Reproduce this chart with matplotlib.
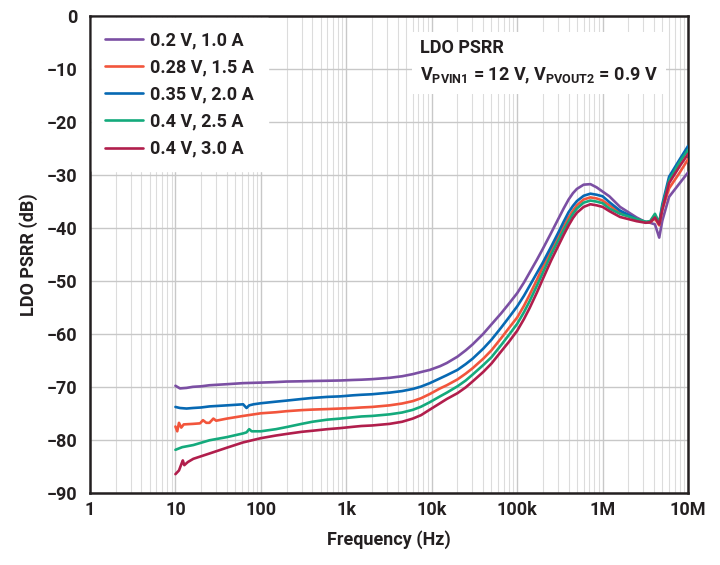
import matplotlib
matplotlib.use("Agg")
import matplotlib.pyplot as plt
from matplotlib.ticker import FixedLocator, LogLocator, NullFormatter

plt.rcParams['font.family'] = ['Roboto', 'DejaVu Sans']
plt.rcParams['font.weight'] = 'bold'
plt.rcParams['mathtext.fontset'] = 'custom'
plt.rcParams['mathtext.rm'] = 'Roboto:bold'
plt.rcParams['mathtext.it'] = 'Roboto:bold'
plt.rcParams['mathtext.bf'] = 'Roboto:bold'

FW = 'bold'
FS = 13

labels = ["0.2 V, 1.0 A", "0.28 V, 1.5 A", "0.35 V, 2.0 A", "0.4 V, 2.5 A", "0.4 V, 3.0 A"]
colors = ["#7B4FA3", "#F2553C", "#0769B3", "#14AA7C", "#B11E4C"]

f_mid = [100, 150, 200, 300, 400, 600, 850, 1.2e3, 1.5e3, 2e3, 3.2e3, 4.5e3, 6e3, 7.5e3,
         9.5e3, 12.5e3, 15e3, 20e3, 25e3, 30e3, 40e3, 50e3, 65e3, 80e3, 100e3, 120e3,
         140e3, 170e3, 200e3, 250e3, 300e3, 350e3, 400e3, 450e3, 500e3, 600e3, 720e3,
         850e3, 1e6, 1.2e6]
f_high = [1.6e6, 2.5e6, 3.2e6, 3.6e6, 4.1e6, 4.6e6, 5.0e6, 6e6, 8e6, 10e6]

# series 1: 0.2 V, 1.0 A
f1_low = [10, 11.3, 13.5, 16, 20, 25, 40, 62]
v1_low = [-69.8, -70.3, -70.2, -70.0, -69.9, -69.7, -69.5, -69.3]
v1_mid = [-69.2, -69.1, -69.0, -68.95, -68.9, -68.85, -68.8, -68.7, -68.65, -68.55, -68.3,
          -68.0, -67.6, -67.2, -66.8, -66.1, -65.5, -64.3, -63.1, -62.0, -60.0, -58.2,
          -56.1, -54.3, -52.3, -50.3, -48.4, -46.0, -43.9, -40.9, -38.4, -36.3, -34.6,
          -33.4, -32.6, -31.8, -31.7, -32.3, -33.1, -34.0]
v1_high = [-36.0, -38.0, -38.9, -39.0, -39.3, -41.8, -38.6, -34.1, -31.5, -29.5]

# series 2: 0.28 V, 1.5 A
f2_low = [10, 10.5, 11, 11.7, 12.5, 16, 19.4, 21, 23, 25, 27.8, 30, 40, 62]
v2_low = [-77.5, -78.4, -76.8, -77.7, -77.1, -77.0, -76.9, -76.3, -76.8, -76.8, -76.0, -76.4,
          -76.0, -75.5]
v2_mid = [-75.0, -74.8, -74.6, -74.4, -74.3, -74.2, -74.1, -74.0, -73.9, -73.8, -73.5,
          -73.15, -72.7, -72.15, -71.35, -70.3, -69.7, -68.6, -67.5, -66.5, -64.7, -63.1,
          -60.8, -58.9, -56.9, -54.7, -52.6, -49.8, -47.3, -44.2, -41.8, -39.7, -38.0,
          -36.7, -35.7, -34.6, -34.2, -34.4, -34.8, -35.7]
v2_high = [-37.0, -38.3, -38.9, -38.9, -38.2, -39.5, -36.5, -32.5, -29.5, -27.0]

# series 3: 0.35 V, 2.0 A
f3_low = [10, 11.3, 13.5, 16, 20, 25, 40, 62, 68, 73, 82]
v3_low = [-73.8, -74.0, -74.1, -74.0, -73.9, -73.7, -73.5, -73.3, -74.0, -73.5, -73.3]
v3_mid = [-73.1, -72.8, -72.6, -72.3, -72.1, -71.9, -71.8, -71.6, -71.5, -71.4, -71.1,
          -70.8, -70.4, -69.95, -69.3, -68.4, -67.8, -66.8, -65.7, -64.7, -62.8, -61.1,
          -58.8, -56.9, -54.8, -52.8, -50.9, -48.5, -46.5, -43.5, -41.0, -38.8, -37.0,
          -35.8, -34.9, -33.9, -33.5, -33.7, -34.0, -35.1]
v3_high = [-36.7, -38.3, -38.9, -38.8, -37.6, -39.0, -35.5, -30.3, -27.0, -24.5]

# series 4: 0.4 V, 2.5 A
f4_low = [10, 12, 16.2, 25, 40, 62, 68, 73, 78]
v4_low = [-81.9, -81.4, -81.0, -80.1, -79.5, -78.8, -78.6, -78.0, -78.4]
v4_mid = [-78.4, -78.0, -77.6, -77.0, -76.6, -76.2, -76.0, -75.75, -75.6, -75.5, -75.2,
          -74.85, -74.35, -73.75, -72.9, -71.8, -71.1, -69.9, -68.8, -67.7, -65.9, -64.4,
          -62.1, -60.2, -58.1, -55.9, -53.8, -50.9, -48.4, -45.0, -42.5, -40.4, -38.7,
          -37.3, -36.3, -35.2, -34.8, -35.0, -35.3, -36.3]
v4_high = [-37.3, -38.3, -38.8, -38.7, -37.3, -39.0, -36.0, -31.0, -27.5, -25.2]

# series 5: 0.4 V, 3.0 A
f5_low = [10, 11, 11.8, 12.2, 12.7, 14, 16.2, 25, 40, 62]
v5_low = [-86.5, -85.8, -84.5, -83.9, -84.8, -84.2, -83.6, -82.6, -81.5, -80.5]
v5_mid = [-79.7, -79.2, -78.9, -78.5, -78.3, -78.0, -77.8, -77.55, -77.4, -77.3, -77.0,
          -76.6, -76.0, -75.35, -74.3, -73.1, -72.3, -71.2, -70.1, -69.0, -67.2, -65.6,
          -63.3, -61.5, -59.4, -57.2, -55.1, -52.2, -49.6, -46.1, -43.5, -41.3, -39.5,
          -38.1, -37.1, -36.0, -35.5, -35.7, -36.0, -36.8]
v5_high = [-37.9, -38.7, -39.0, -38.9, -38.0, -39.3, -36.5, -31.5, -28.3, -26.0]

series = [
    (f1_low, v1_low, v1_mid, v1_high),
    (f2_low, v2_low, v2_mid, v2_high),
    (f3_low, v3_low, v3_mid, v3_high),
    (f4_low, v4_low, v4_mid, v4_high),
    (f5_low, v5_low, v5_mid, v5_high),
]

xticks = [1, 10, 100, 1e3, 1e4, 1e5, 1e6, 1e7]
xticklabels = ["1", "10", "100", "1k", "10k", "100k", "1M", "10M"]
yticks = [0, -10, -20, -30, -40, -50, -60, -70, -80, -90]

fig = plt.figure(figsize=(7.2, 5.65), dpi=100)
ax = fig.add_axes([0.125, 0.128, 0.8306, 0.843])

for (fl, vl, vm, vh), lab, c in zip(series, labels, colors):
    ax.plot(fl + f_mid + f_high, vl + vm + vh, color=c, lw=1.9, label=lab,
            solid_joinstyle='round', solid_capstyle='round', zorder=3)

ax.set_xscale('log')
ax.set_xlim(1, 1e7)
ax.set_ylim(-90, 0)
ax.xaxis.set_major_locator(FixedLocator(xticks))
ax.set_xticklabels(xticklabels)
ax.xaxis.set_minor_locator(LogLocator(base=10, subs=range(2, 10), numticks=100))
ax.xaxis.set_minor_formatter(NullFormatter())
ax.set_yticks(yticks)
ax.set_yticklabels([("\u2212" + str(-t)) if t < 0 else str(t) for t in yticks])

ax.grid(True, which='major', axis='both', color='#c8c8c8', lw=1.0, zorder=0)
ax.grid(True, which='minor', axis='x', color='#dcdcdc', lw=0.8, zorder=0)
ax.tick_params(axis='both', which='both', length=0, labelsize=FS, colors='#231f20')
ax.tick_params(axis='x', pad=6)
ax.tick_params(axis='y', pad=9)
for t in ax.get_xticklabels() + ax.get_yticklabels():
    t.set_fontweight(FW)
for sp in ax.spines.values():
    sp.set_linewidth(1.8)
    sp.set_color('#231f20')

ax.set_xlabel("Frequency (Hz)", fontsize=FS, fontweight=FW, color='#231f20', labelpad=8)
ax.set_ylabel("LDO PSRR (dB)", fontsize=FS, fontweight=FW, color='#231f20', labelpad=6)

leg = ax.legend(loc='upper left', bbox_to_anchor=(0.0, 1.0), frameon=True, fancybox=False,
                framealpha=1.0, facecolor='white', edgecolor='white', fontsize=FS,
                handlelength=2.1, handletextpad=0.4, labelspacing=0.5, borderpad=0.75,
                borderaxespad=0.1)
for t in leg.get_texts():
    t.set_color('#231f20')
    t.set_fontweight(FW)
leg.set_zorder(5)

ax.text(0.552, 0.953,
        "LDO PSRR\n" + r"V$_{\mathrm{PVIN1}}$ = 12 V, V$_{\mathrm{PVOUT2}}$ = 0.9 V",
        transform=ax.transAxes, ha='left', va='top', fontsize=FS, fontweight=FW,
        color='#231f20', linespacing=1.6,
        bbox=dict(boxstyle='square,pad=0.45', facecolor='white', edgecolor='none'), zorder=5)

fig.savefig("out.png", dpi=100)
